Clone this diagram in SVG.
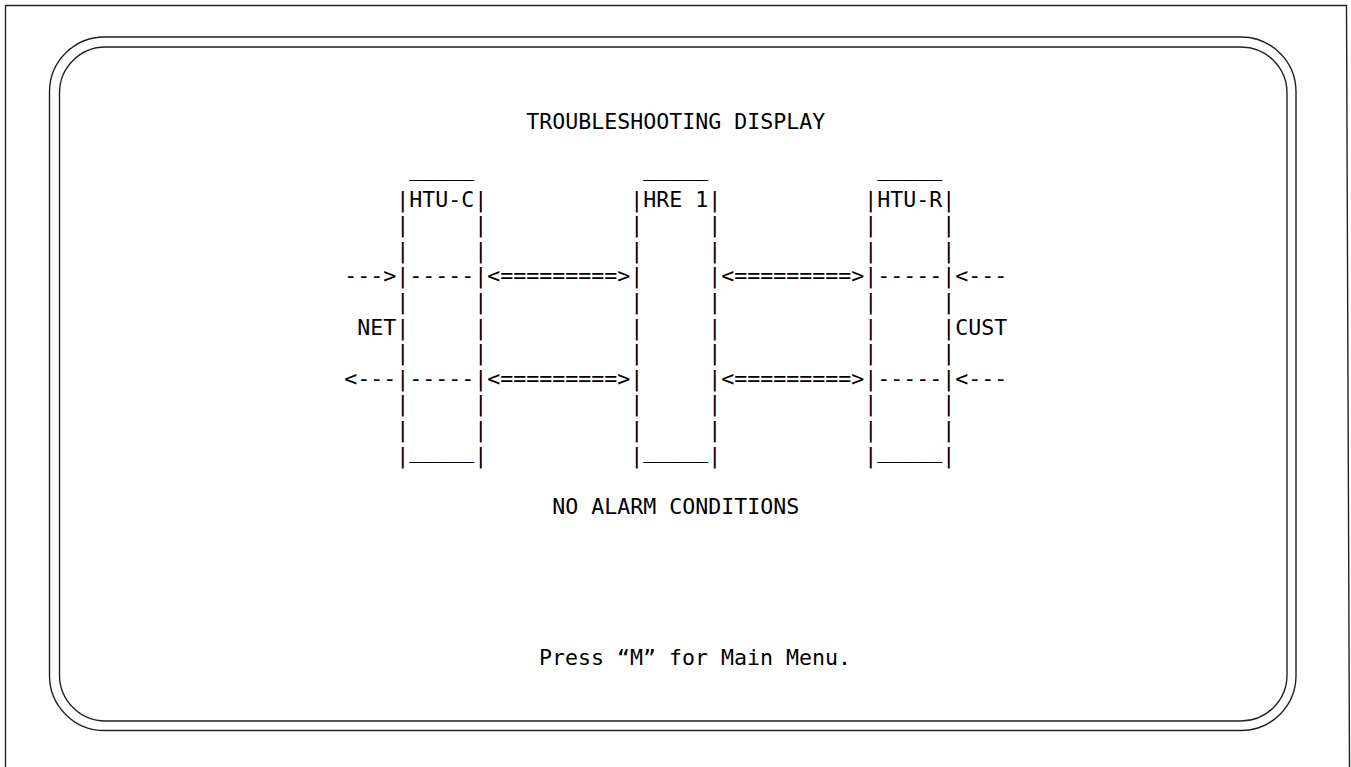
<svg xmlns="http://www.w3.org/2000/svg" width="1351" height="767" viewBox="0 0 1351 767">
<style>
text{font-family:"DejaVu Sans Mono","Liberation Mono",monospace;font-size:21.6px;fill:#000;white-space:pre}
.frame{fill:none;stroke:#222;stroke-width:1.4}
</style>
<rect width="1351" height="767" fill="#fff"/>
<g id="frame">
<path class="frame" d="M5.5,767 V5.5 H1346.5 L1349.5,767"/>
<rect class="frame" x="49.5" y="37" width="1246.5" height="693.5" rx="55" ry="55"/>
<rect class="frame" x="59.5" y="47" width="1227.5" height="674" rx="46" ry="46"/>
</g>
<g id="title"><text x="526.2" y="128.5">TROUBLESHOOTING DISPLAY</text></g>
<g id="node-htu-c">
<text x="409.2" y="176.4">_____</text>
<text x="396.2" y="206.5">|HTU-C|</text>
<text x="396.2" y="232.1">|     |</text>
<text x="396.2" y="257.7">|     |</text>
<text x="396.2" y="283.3">|-----|</text>
<text x="396.2" y="308.9">|     |</text>
<text x="396.2" y="334.5">|     |</text>
<text x="396.2" y="360.1">|     |</text>
<text x="396.2" y="385.7">|-----|</text>
<text x="396.2" y="411.3">|     |</text>
<text x="396.2" y="436.9">|     |</text>
<text x="396.2" y="462.5">|<tspan dy="-4.4">_____</tspan><tspan dy="4.4">|</tspan></text>
</g>
<g id="node-hre-1">
<text x="643.2" y="176.4">_____</text>
<text x="630.2" y="206.5">|HRE 1|</text>
<text x="630.2" y="232.1">|     |</text>
<text x="630.2" y="257.7">|     |</text>
<text x="630.2" y="283.3">|     |</text>
<text x="630.2" y="308.9">|     |</text>
<text x="630.2" y="334.5">|     |</text>
<text x="630.2" y="360.1">|     |</text>
<text x="630.2" y="385.7">|     |</text>
<text x="630.2" y="411.3">|     |</text>
<text x="630.2" y="436.9">|     |</text>
<text x="630.2" y="462.5">|<tspan dy="-4.4">_____</tspan><tspan dy="4.4">|</tspan></text>
</g>
<g id="node-htu-r">
<text x="877.2" y="176.4">_____</text>
<text x="864.2" y="206.5">|HTU-R|</text>
<text x="864.2" y="232.1">|     |</text>
<text x="864.2" y="257.7">|     |</text>
<text x="864.2" y="283.3">|-----|</text>
<text x="864.2" y="308.9">|     |</text>
<text x="864.2" y="334.5">|     |</text>
<text x="864.2" y="360.1">|     |</text>
<text x="864.2" y="385.7">|-----|</text>
<text x="864.2" y="411.3">|     |</text>
<text x="864.2" y="436.9">|     |</text>
<text x="864.2" y="462.5">|<tspan dy="-4.4">_____</tspan><tspan dy="4.4">|</tspan></text>
</g>
<g id="node-net"><text x="357.2" y="334.5">NET</text></g>
<g id="node-cust"><text x="955.2" y="334.5">CUST</text></g>
<g id="connectors">
<text x="344.2" y="283.3">---&gt;</text>
<text x="344.2" y="385.7">&lt;---</text>
<text x="487.2" y="283.3">&lt;=========&gt;</text>
<text x="487.2" y="385.7">&lt;=========&gt;</text>
<text x="721.2" y="283.3">&lt;=========&gt;</text>
<text x="721.2" y="385.7">&lt;=========&gt;</text>
<text x="955.2" y="283.3">&lt;---</text>
<text x="955.2" y="385.7">&lt;---</text>
</g>
<g id="status"><text x="552.2" y="513.5">NO ALARM CONDITIONS</text></g>
<g id="footer"><text x="539" y="665">Press “M” for Main Menu.</text></g>
</svg>
